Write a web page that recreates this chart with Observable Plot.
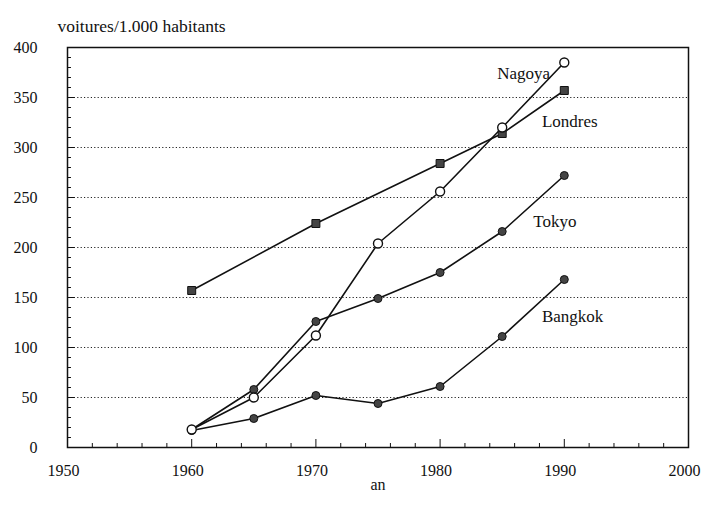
<!DOCTYPE html>
<html><head><meta charset="utf-8">
<script src="https://cdn.jsdelivr.net/npm/d3@7"></script>
<script src="https://cdn.jsdelivr.net/npm/@observablehq/plot@0.6"></script>
<style>body{margin:0;background:#fff} svg text{font-family:"Liberation Serif","Times New Roman",serif !important}</style>
</head><body><div id="chart"></div>
<script>
const years = [1960, 1965, 1970, 1975, 1980, 1985, 1990];
const nagoya  = [18, 50, 112, 204, 256, 320, 385];
const londresYears = [1960, 1970, 1980, 1985, 1990];
const londres = [157, 224, 284, 314, 357];
const tokyo   = [18, 58, 126, 149, 175, 216, 272];
const bangkok = [17, 29, 52, 44, 61, 111, 168];
const seriesNames = ["Nagoya", "Londres", "Tokyo", "Bangkok"];
const labelYear  = [1984.6, 1988.2, 1987.5, 1988.2];
const labelValue = [374, 326, 226, 131];
const xTicks = [1950, 1960, 1970, 1980, 1990, 2000];
const yTicks = [0, 50, 100, 150, 200, 250, 300, 350, 400];
const yTitle = "voitures/1.000 habitants";
const xTitle = "an";

const rows = (name, xs, ys) => xs.map((x, i) => ({name, year: x, value: ys[i]}));
const dNag = rows("Nagoya", years, nagoya);
const dLon = rows("Londres", londresYears, londres);
const dTok = rows("Tokyo", years, tokyo);
const dBan = rows("Bangkok", years, bangkok);
const labels = seriesNames.map((n, i) => ({name: n, year: labelYear[i], value: labelValue[i]}));

const xMinor = d3.range(1950, 2001, 2).filter(v => v % 10 !== 0);
const xMajor = xTicks.slice(1, -1);
const yMinor = d3.range(0, 401, 10).filter(v => v % 50 !== 0);
const yMajor = yTicks.slice(1, -1);
const grid = yTicks.slice(1, -1);

const font = '"Liberation Serif", "Times New Roman", serif';
const lineStyle = {x: "year", y: "value", stroke: "#111", strokeWidth: 1.6};
const dotFilled = {x: "year", y: "value", r: 4, fill: "#444", stroke: "#111", strokeWidth: 1};

const chart = Plot.plot({
  width: 710, height: 506,
  marginLeft: 67, marginRight: 22, marginTop: 47, marginBottom: 59,
  style: {fontFamily: font, fontSize: "16px", background: "#fff", color: "#111"},
  x: {domain: [1950, 2000], axis: null},
  y: {domain: [0, 400], axis: null},
  marks: [
    Plot.ruleY(grid, {stroke: "#222", strokeDasharray: "1.2,2.2", strokeWidth: 1}),
    Plot.frame({stroke: "#111", strokeWidth: 1.5}),
    Plot.ruleX(xMinor, {y1: 0, y2: 4, stroke: "#111"}),
    Plot.ruleX(xMajor, {y1: 0, y2: 8, stroke: "#111"}),
    Plot.ruleY(yMinor, {x1: 1950, x2: 1950.32, stroke: "#111"}),
    Plot.ruleY(yMajor, {x1: 1950, x2: 1950.6, stroke: "#111"}),
    Plot.text(xTicks, {x: d => d, frameAnchor: "bottom", dy: 28, dx: -4, text: d => String(d), fontSize: 16}),
    Plot.axisY(yTicks, {tickSize: 0, tickPadding: 30, fontSize: 16, label: null}),
    Plot.text([xTitle], {frameAnchor: "bottom", dy: 42, fontSize: 16}),
    Plot.text([yTitle], {frameAnchor: "top-left", dx: -10, dy: -28, textAnchor: "start", fontSize: 17.5}),
    Plot.line(dLon, lineStyle),
    Plot.line(dNag, lineStyle),
    Plot.line(dTok, lineStyle),
    Plot.line(dBan, lineStyle),
    Plot.dot(dLon, {x: "year", y: "value", symbol: "square", r: 4.5, fill: "#444", stroke: "#111", strokeWidth: 1}),
    Plot.dot(dTok, dotFilled),
    Plot.dot(dBan, dotFilled),
    Plot.dot(dNag, {x: "year", y: "value", r: 4.5, fill: "#fff", stroke: "#111", strokeWidth: 1.4}),
    Plot.text(labels, {x: "year", y: "value", text: "name", fontSize: 17, textAnchor: "start"})
  ]
});
document.getElementById("chart").appendChild(chart);
</script></body></html>
